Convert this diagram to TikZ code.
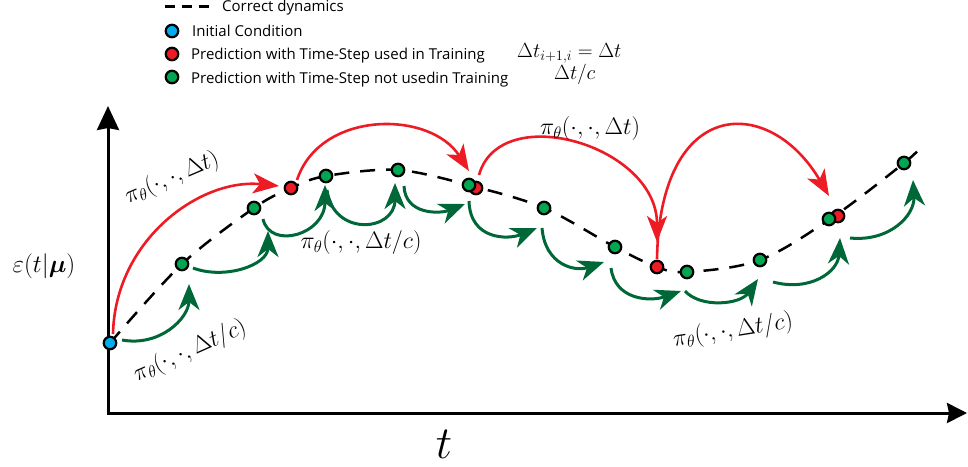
\RequirePackage{fix-cm}
\documentclass[tikz,border=0pt]{standalone}
\usepackage{amsmath}
\usepackage{fontspec}
\newfontfamily\legendfont{Open Sans}
\usetikzlibrary{arrows.meta}
\definecolor{myred}{RGB}{237,28,36}
\definecolor{dotgreen}{RGB}{0,166,81}
\definecolor{myblue}{RGB}{0,174,239}
\definecolor{arrgreen}{RGB}{0,104,56}
\pgfdeclarelayer{bg}
\pgfsetlayers{bg,main}
\begin{document}
\begin{tikzpicture}[x=1pt,y=-1pt,
  dot/.style={circle,draw=black,line width=2.2pt,minimum size=12.5pt,inner sep=0pt},
  gdot/.style={dot,fill=dotgreen},
  rdot/.style={dot,fill=myred},
  bdot/.style={dot,fill=myblue},
  curve/.style={line width=2.5pt,dash pattern=on 15pt off 11pt},
  redarr/.style={draw=myred,line width=2.6pt,-{Stealth[length=26pt,width=20pt,inset=7pt]}},
  grnarr/.style={draw=arrgreen,line width=3pt,-{Stealth[length=26pt,width=21pt,inset=8pt]}},
  lbl/.style={font=\fontsize{23.9}{28}\selectfont,inner sep=0pt},
  legtext/.style={anchor=base west,font=\legendfont\fontsize{15}{18}\selectfont,inner sep=0pt}
]
\useasboundingbox (0,0) rectangle (968,466);

% axes
\coordinate (O) at (108,413);
\coordinate (Ytip) at (108,106);
\coordinate (Xtip) at (967,413);
\draw[line width=3pt,{Stealth[length=24pt,width=22pt,inset=2pt]}-{Stealth[length=20pt,width=20pt,inset=2pt]}] (Ytip) -- (O) -- (Xtip);

% dots (red ones first so the green ones lie on top)
\node[bdot] (b0) at (110,343) {};
\node[gdot] (g1) at (182,264) {};
\node[gdot] (g2) at (254,208) {};
\node[rdot] (r1) at (291,188) {};
\node[gdot] (g3) at (326,176) {};
\node[gdot] (g4) at (398,170) {};
\node[rdot] (rb5) at (476,188) {};
\node[gdot] (g5) at (469,185) {};
\node[gdot] (g6) at (544,208) {};
\node[gdot] (g7) at (615,247) {};
\node[rdot] (r2) at (657,267) {};
\node[gdot] (g8) at (687,272) {};
\node[gdot] (g9) at (760,260) {};
\node[rdot] (rb10) at (838,216) {};
\node[gdot] (g10) at (829,219) {};
\node[gdot] (g11) at (904,163) {};

\begin{pgfonlayer}{bg}
\draw[curve] plot[smooth,tension=0.55] coordinates {(110,343) (182,264) (254,208) (291,188) (326,176) (398,170) (472,186) (544,208) (615,247) (657,267) (687,272) (760,260) (833,217) (904,163) (921,147)};

% red arrows
\draw[redarr] ([shift={(3,-9)}]b0.center) .. controls (115,240) and (200,178) .. ([shift={(-12,-2)}]r1.center);
\draw[redarr] ([shift={(6,-8)}]r1.center) .. controls (320,110) and (430,110) .. ([shift={(-7,-17)}]rb5.center);
\draw[redarr] ([shift={(3,-13)}]rb5.center) .. controls (500,100) and (657,145) .. ([shift={(0,-25)}]r2.center);
\draw[redarr] ([shift={(0,-8)}]r2.center) .. controls (660,95) and (770,95) .. ([shift={(-9,-20)}]rb10.center);

% green arrows
\draw[grnarr] ([shift={(12,-3)}]b0.center) .. controls (160,347) and (189,318) .. ([shift={(7,20)}]g1.center);
\draw[grnarr] ([shift={(11,4)}]g1.center) .. controls (225,280) and (268,265) .. ([shift={(14,23)}]g2.center);
\draw[grnarr] ([shift={(9,11)}]g2.center) .. controls (270,250) and (325,235) .. ([shift={(-1,9)}]g3.center);
\draw[grnarr] ([shift={(1,14)}]g3.center) .. controls (333,237) and (395,232) .. ([shift={(-3,13)}]g4.center);
\draw[grnarr] ([shift={(6,16)}]g4.center) .. controls (405,215) and (440,214) .. ([shift={(-4,19)}]g5.center);
\draw[grnarr] ([shift={(0,16)}]g5.center) .. controls (470,240) and (508,240) .. ([shift={(-7,20)}]g6.center);
\draw[grnarr] ([shift={(-2,20)}]g6.center) .. controls (545,265) and (575,272) .. ([shift={(-11,15)}]g7.center);
\draw[grnarr] ([shift={(-4,21)}]g7.center) .. controls (615,300) and (650,302) .. ([shift={(-6,19)}]g8.center);
\draw[grnarr] ([shift={(-2,19)}]g8.center) .. controls (700,308) and (740,305) .. ([shift={(-2,19)}]g9.center);
\draw[grnarr] ([shift={(13,22)}]g9.center) .. controls (810,292) and (838,272) .. ([shift={(11,19)}]g10.center);
\draw[grnarr] ([shift={(21,19)}]g10.center) .. controls (890,242) and (915,215) .. ([shift={(9,17)}]g11.center);
\end{pgfonlayer}

% labels
\node[lbl,rotate=23] (L1) at (172,178) {$\pi_\theta(\cdot,\cdot,\Delta t)$};
\node[lbl] (L2) at (361,243) {$\pi_\theta(\cdot,\cdot,\Delta t/c)$};
\node[lbl] (L3) at (590,129) {$\pi_\theta(\cdot,\cdot,\Delta t)$};
\node[lbl,rotate=9] (L4) at (733,331) {$\pi_\theta(\cdot,\cdot,\Delta t/c)$};
\node[lbl,rotate=24] (L5) at (190,351) {$\pi_\theta(\cdot,\cdot,\Delta t/c)$};
\node[font=\fontsize{25}{30}\selectfont,inner sep=0pt] (ylab) at (44,266) {$\varepsilon(t|\boldsymbol{\mu})$};
\node[font=\fontsize{46}{54}\selectfont,inner sep=0pt] (xlab) at (444,444) {$t$};

% legend
\coordinate (legA) at (165,6);
\coordinate (legB) at (209,6);
\draw[line width=3pt,dash pattern=on 10pt off 7pt] (legA) -- (legB);
\node[bdot] (lb) at (172,31) {};
\node[rdot] (lr) at (172,54) {};
\node[gdot] (lg) at (172,77) {};
\node[legtext] (t0) at (222,11) {Correct dynamics};
\node[legtext] (t1) at (192,36) {Initial Condition};
\node[legtext] (t2) at (191,59.5) {Prediction with Time-Step used in Training};
\node[legtext] (t3) at (191,83) {Prediction with Time-Step not usedin Training};
\node[anchor=base west,inner sep=0pt,font=\fontsize{20.5}{24}\selectfont] (m2) at (517,57) {$\Delta t_{i+1,i} = \Delta t$};
\node[anchor=base west,inner sep=0pt,font=\fontsize{20.5}{24}\selectfont] (m3) at (554,79) {$\Delta t/c$};
\end{tikzpicture}
\end{document}
